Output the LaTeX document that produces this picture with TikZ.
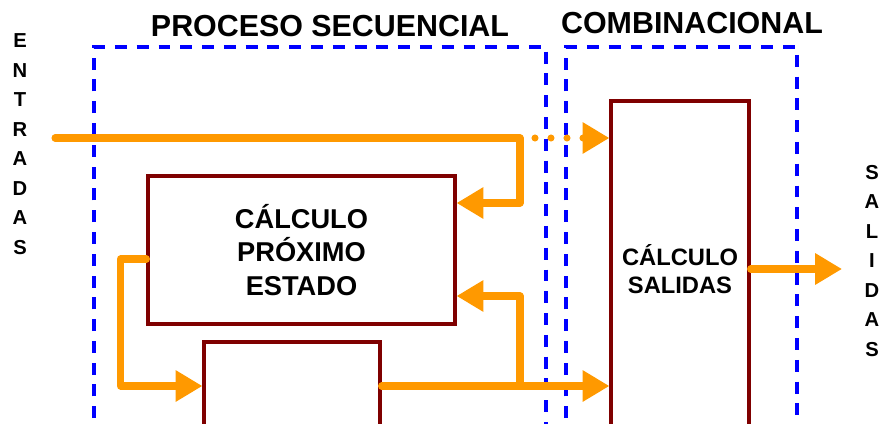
\documentclass[tikz,border=0pt]{standalone}
\usepackage{fontspec}
\setmainfont{Liberation Sans}
\usetikzlibrary{arrows.meta}

\definecolor{granate}{HTML}{7F0000}
\definecolor{naranja}{HTML}{FF9900}
\definecolor{azul}{HTML}{0000FF}

\begin{document}
\begin{tikzpicture}[
  x=0.02cm,
  y=-0.02cm,
  bloque/.style={draw=granate, line width=1.8pt, fill=white, align=center, font=\bfseries},
  zona/.style={draw=azul, line width=2.3pt, dash pattern=on 6.8pt off 5.6pt},
  flujo/.style={draw=naranja, line width=4pt, line cap=round, line join=round, -{Triangle[length=15.3pt, width=17pt]}},
  titulo/.style={font=\fontsize{17.3}{20}\selectfont\bfseries},
  letras/.style={align=center, font=\fontsize{11.5}{16.8}\selectfont\bfseries}
]
  \useasboundingbox (0,0) rectangle (882,423);

  % zonas punteadas
  \draw[zona] (94,440) -- (94,47) -- (546,47) -- (546,440);
  \draw[zona] (566,440) -- (566,47) -- (797,47) -- (797,440);
  \node[titulo] (tsec) at (330,26) {PROCESO SECUENCIAL};
  \node[titulo] (tcomb) at (692,23) {COMBINACIONAL};

  % bloques
  \node[bloque, minimum width=6.14cm, minimum height=2.96cm,
        font=\fontsize{15.5}{19.3}\selectfont\bfseries] (prox) at (301.5,250)
        {CÁLCULO\\PRÓXIMO\\ESTADO};
  \node[bloque, minimum width=3.52cm, minimum height=1.76cm] (reg) at (292,386) {};
  \node[bloque, minimum width=2.76cm, minimum height=6.72cm,
        font=\fontsize{13.5}{15.9}\selectfont\bfseries] (sal) at (680,269)
        {CÁLCULO\\SALIDAS};

  % entradas y salidas
  \node[letras] (ent) at (20,144) {E\\N\\T\\R\\A\\D\\A\\S};
  \node[letras] (sals) at (872,261) {S\\A\\L\\I\\D\\A\\S};

  \coordinate (inicio) at (55,138);
  \coordinate (bif) at (520,138);
  \coordinate (fin) at (842,269);

  % conexiones
  \draw[flujo] (inicio) -- (bif) |- ([yshift=0.94cm]prox.east);
  \draw[flujo, dash pattern=on 0pt off 0.32cm] ([xshift=0.3cm]bif) -- (sal.west |- bif);
  \draw[flujo] ([yshift=-0.18cm]prox.west) -- ++(-26,0) |- (reg.west);
  \draw[flujo] (reg.east) -- (sal.west |- reg.east);
  \draw[flujo] (reg.east -| bif) |- ([yshift=-0.92cm]prox.east);
  \draw[flujo] (sal.east) -- (fin);
\end{tikzpicture}
\end{document}
